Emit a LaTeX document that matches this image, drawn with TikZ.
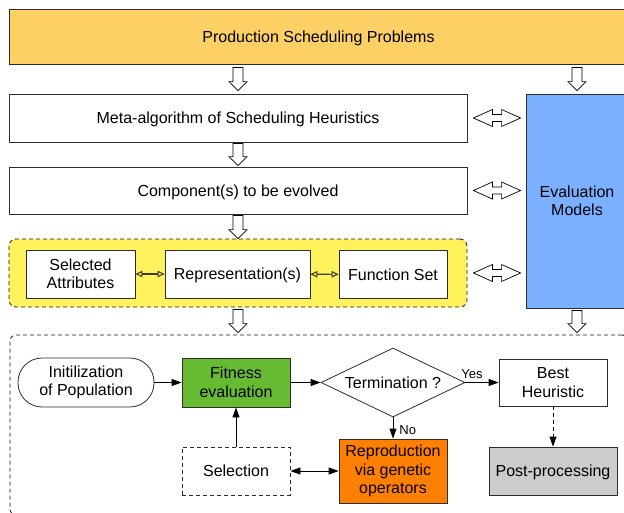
\documentclass[tikz,border=0pt]{standalone}
\usepackage{fontspec}
\setmainfont{Liberation Sans}
\usetikzlibrary{arrows.meta,shapes.geometric,calc}

\definecolor{probyellow}{RGB}{253,208,102}
\definecolor{groupyellow}{RGB}{255,242,92}
\definecolor{evalblue}{RGB}{122,176,255}
\definecolor{fitgreen}{RGB}{102,187,51}
\definecolor{reporange}{RGB}{255,128,0}
\definecolor{postgray}{RGB}{204,204,204}
\definecolor{edge}{RGB}{45,45,45}

\begin{document}
\begin{tikzpicture}[x=1pt,y=-1pt,
  font=\fontsize{16}{18.5}\selectfont,
  box/.style={draw=edge, line width=0.8pt, fill=white, align=center, inner sep=1pt},
  oneline/.style={text depth=0pt},
  dashedbox/.style={box, dash pattern=on 4pt off 3pt},
  group/.style={draw=black!90, line width=0.8pt, dash pattern=on 4pt off 3pt, rounded corners=7pt},
  flow/.style={draw=black, line width=0.8pt, -{Triangle[length=10pt,width=7pt]}},
  small link/.style={draw=black!75!groupyellow, line width=1.1pt,
    {Triangle[open,length=7pt,width=6.5pt]}-{Triangle[open,length=7pt,width=6.5pt]}},
  lbl/.style={font=\fontsize{13}{15}\selectfont, inner sep=2pt},
  % hollow block arrow pointing down, drawn between two points
  hollow down/.style={draw=black, line width=0.7pt, fill=white,
    to path={let \p1=(\tikztostart), \p2=(\tikztotarget) in
      (\x1-5pt,\y1) -- (\x1+5pt,\y1) -- (\x1+5pt,\y2+9pt) -- (\x1+9pt,\y2+9pt)
      -- (\x1,\y2) -- (\x1-9pt,\y2+9pt) -- (\x1-5pt,\y2+9pt) -- cycle}},
  % hollow block arrow with heads at both ends, horizontal
  hollow both/.style={draw=black, line width=0.7pt, fill=white,
    to path={let \p1=(\tikztostart), \p2=(\tikztotarget) in
      (\x1,\y1) -- (\x1+19pt,\y1+8.5pt) -- (\x1+19pt,\y1+3.5pt) -- (\x2-19pt,\y1+3.5pt)
      -- (\x2-19pt,\y1+8.5pt) -- (\x2,\y1) -- (\x2-19pt,\y1-8.5pt) -- (\x2-19pt,\y1-3.5pt)
      -- (\x1+19pt,\y1-3.5pt) -- (\x1+19pt,\y1-8.5pt) -- cycle}}
]
\useasboundingbox (0,0) rectangle (624,512);
\clip (0,0) rectangle (624,512);

% upper column
\node[box, oneline, fill=probyellow, minimum width=619, minimum height=55] (prob) at (318.5,36.5) {Production Scheduling Problems};
\node[box, oneline, minimum width=458, minimum height=48] (meta) at (238,118) {Meta-algorithm of Scheduling Heuristics};
\node[box, oneline, minimum width=458, minimum height=47] (comp) at (238,190.5) {Component(s) to be evolved};

% group of evolved components
\node[group, fill=groupyellow, minimum width=458, minimum height=68] (grp) at (238,273) {};
\node[box, minimum width=109, minimum height=48] (attr) at (80.5,274) {Selected\\Attributes};
\node[box, oneline, minimum width=145, minimum height=48] (repr) at (237.5,274) {Representation(s)};
\node[box, oneline, minimum width=108, minimum height=48] (func) at (393,274.5) {Function Set};
\draw[small link] (attr) -- (repr);
\draw[small link] (repr) -- (func);

% evaluation models
\node[box, fill=evalblue, minimum width=102, minimum height=214] (eval) at (577,201) {Evaluation\\Models};

% genetic programming loop
\node[group, minimum width=618, minimum height=180, rounded corners=6pt] (ga) at (319,425) {};
\node[box, rounded corners=24pt, minimum width=136, minimum height=49] (init) at (86,382.5) {Initilization\\of Population};
\node[box, fill=fitgreen, minimum width=108, minimum height=49] (fit) at (236,382.5) {Fitness\\evaluation};
\node[draw=edge, line width=0.8pt, fill=white, diamond, aspect=2.09, inner sep=1pt,
      minimum width=144, minimum height=69] (term) at (393,382.5) {Termination ?};
\node[box, minimum width=108, minimum height=47] (best) at (553,382.5) {Best\\Heuristic};
\node[dashedbox, minimum width=108, minimum height=48] (sel) at (236,471) {Selection};
\node[box, fill=reporange, minimum width=108, minimum height=64] (repro) at (393,471) {Reproduction\\via genetic\\operators};
\node[box, oneline, fill=postgray, minimum width=128, minimum height=48] (post) at (553,471) {Post-processing};

% hollow arrows
\path[hollow down] ([yshift=-3pt]prob.south -| meta.north) to ([yshift=3pt]meta.north);
\path[hollow down] ([yshift=-3pt]prob.south -| eval.north) to ([yshift=3pt]eval.north);
\path[hollow down] ([yshift=-1pt]meta.south) to ([yshift=1pt]comp.north);
\path[hollow down] ([yshift=-1pt]comp.south) to ([yshift=0pt]grp.north);
\path[hollow down] ([yshift=-2pt]grp.south) to ([yshift=2pt]ga.north -| grp.south);
\path[hollow down] ([yshift=-2pt]eval.south) to ([yshift=2pt]ga.north -| eval.south);
\path[hollow both] ([xshift=6pt]meta.east) to ([xshift=-5pt]meta.east -| eval.west);
\path[hollow both] ([xshift=6pt]comp.east) to ([xshift=-5pt]comp.east -| eval.west);
\path[hollow both] ([xshift=6pt]grp.east) to ([xshift=-5pt]grp.east -| eval.west);

% loop connectors
\draw[flow] (init) -- (fit);
\draw[flow] (fit) -- (term);
\draw[flow] (term) -- node[lbl, pos=0.2, above, yshift=1.5pt] {Yes} (best);
\draw[flow] (term) -- node[lbl, right, xshift=4pt, pos=0.6] {No} (repro);
\draw[flow] (sel) -- (fit);
\draw[draw=black, line width=0.8pt, {Triangle[length=10pt,width=7pt]}-{Triangle[length=10pt,width=7pt]}] (sel) -- (repro);
\draw[flow, dash pattern=on 4pt off 3pt] (best) -- (post);
\end{tikzpicture}
\end{document}
